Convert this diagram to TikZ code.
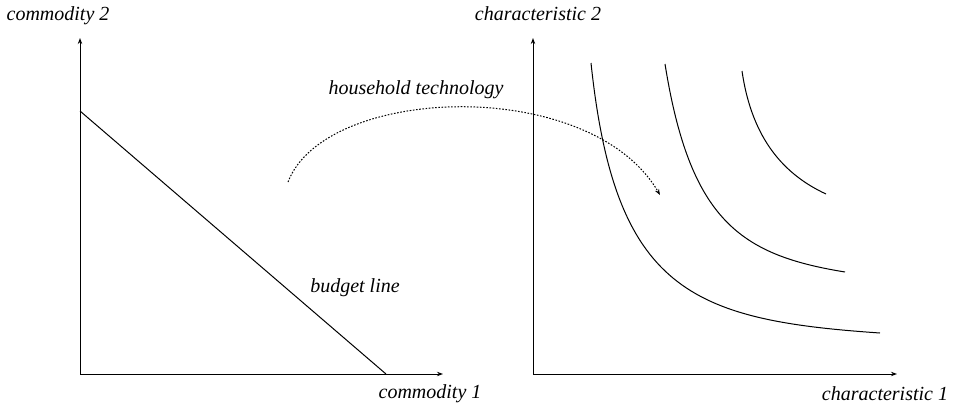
\documentclass[tikz,border=0pt]{standalone}
\usepackage{fontspec}
\setmainfont{Liberation Serif}
\usetikzlibrary{arrows.meta}

\begin{document}
\begin{tikzpicture}[x=0.5pt,y=-0.5pt, line width=0.5pt,
  >={Stealth[length=3pt,width=2.2pt]},
  lbl/.style={font=\itshape, anchor=base, inner sep=0pt}]
\useasboundingbox (0,0) rectangle (958,407);

% commodity space
\coordinate (o1) at (80,374);
\coordinate (y1) at (80,38);
\coordinate (x1) at (443,374);
\coordinate (b1) at (80,111);
\coordinate (b2) at (386,374);
\draw[->] (o1) -- (y1);
\draw[->] (o1) -- (x1);
\draw (b1) -- (b2);

\node[lbl] (c2) at (58,20) {commodity 2};
\node[lbl] (c1) at (430,398) {commodity 1};
\node[lbl] (bl) at (355,292) {budget line};

% characteristics space
\coordinate (o2) at (533,374);
\coordinate (y2) at (533,38);
\coordinate (x2) at (897,374);
\draw[->] (o2) -- (y2);
\draw[->] (o2) -- (x2);

\node[lbl] (z2) at (538,20) {characteristic 2};
\node[lbl] (z1) at (885,400) {characteristic 1};

% indifference curves
\draw (591,63) .. controls (615,290) and (690,320) .. (880,333);
\draw (665,64) .. controls (690,220) and (740,255) .. (845,272);
\draw (742,71) .. controls (752,140) and (785,175) .. (826,194);

% household technology
\node[lbl] (ht) at (416,94) {household technology};
\coordinate (h1) at (288,182);
\coordinate (h2) at (660,195);
\draw[->, dash pattern=on 0.8pt off 0.8pt] (h1) .. controls (325,85) and (590,75) .. (h2);
\end{tikzpicture}
\end{document}
